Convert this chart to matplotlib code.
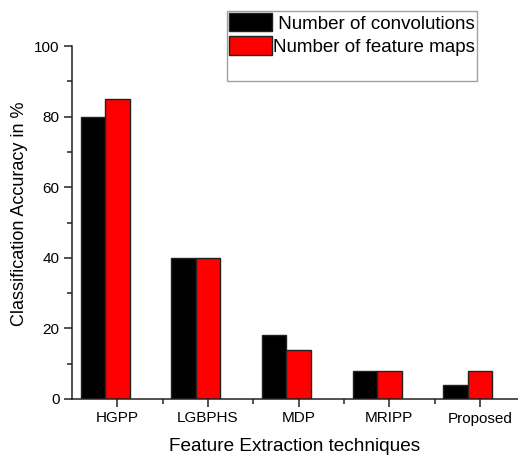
import matplotlib
matplotlib.use("Agg")
import matplotlib.pyplot as plt
from matplotlib.patches import Patch
from matplotlib.ticker import MultipleLocator, FixedLocator
import numpy as np

plt.rcParams['font.family'] = ['Liberation Sans', 'DejaVu Sans']

techniques = ["HGPP", "LGBPHS", "MDP", "MRIPP", "Proposed"]
convolutions = [80, 40, 18, 8, 4]
feature_maps = [85, 40, 14, 8, 8]
series_labels = [" Number of convolutions", "Number of feature maps"]
y_ticks = [0, 20, 40, 60, 80, 100]

fig = plt.figure(figsize=(5.18, 4.55), dpi=100)
ax = fig.add_axes([72 / 518, 1 - 399 / 455, 1 - 72 / 518, (399 - 46) / 455])

x = np.arange(len(techniques))
w = 0.27
edge = "#222222"
# red bar centred on the tick, black bar directly to its left
ax.bar(x - 1.5 * w, convolutions, width=w, align="edge", color="black",
       edgecolor=edge, linewidth=1.0)
ax.bar(x - 0.5 * w, feature_maps, width=w, align="edge", color="#ff0000",
       edgecolor=edge, linewidth=1.0)

ax.set_xlim(-0.5, 4.42)
ax.set_ylim(0, 100)
ax.set_xticks(x)
ax.set_xticklabels(techniques, fontsize=11)
ax.xaxis.set_minor_locator(FixedLocator(x[:-1] + 0.5))
ax.set_yticks(y_ticks)
ax.set_yticklabels([str(v) for v in y_ticks], fontsize=11)
ax.yaxis.set_minor_locator(MultipleLocator(10))

for s in ["top", "right"]:
    ax.spines[s].set_visible(False)
for s in ["left", "bottom"]:
    ax.spines[s].set_linewidth(1.1)
    ax.spines[s].set_color("#222222")

ax.tick_params(which="major", direction="out", length=6, width=1.1,
               color="#222222", pad=3)
ax.tick_params(which="minor", direction="out", length=3.5, width=1.1,
               color="#222222")

ax.set_xlabel("Feature Extraction techniques", fontsize=13.7, labelpad=9)
ax.set_ylabel("Classification Accuracy in %", fontsize=13)
ax.yaxis.set_label_coords(-0.099, 0.524)

handles = [Patch(facecolor="black", edgecolor=edge, linewidth=1.0),
           Patch(facecolor="#ff0000", edgecolor=edge, linewidth=1.0),
           Patch(visible=False)]
leg = fig.legend(handles, series_labels + [" "], loc="upper left",
                 bbox_to_anchor=(227 / 518, 1 - 11 / 455),
                 bbox_transform=fig.transFigure, borderaxespad=0,
                 fontsize=13.5, frameon=True, fancybox=False,
                 borderpad=0.12, handlelength=2.3, handleheight=1.12,
                 labelspacing=0.2, handletextpad=0.05)
leg.get_frame().set_edgecolor("#888888")
leg.get_frame().set_linewidth(1.0)

fig.savefig("out.png", dpi=100)
